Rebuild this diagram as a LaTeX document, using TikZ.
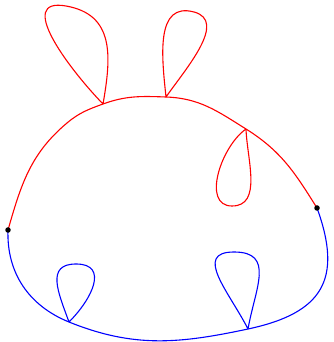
\documentclass[tikz,border=0pt]{standalone}
\usepackage{tikz}
\usetikzlibrary{calc, positioning}

\begin{document}
\begin{tikzpicture}[x=1pt, y=1pt, line width=1.1pt,
    redcurve/.style={red},
    bluecurve/.style={blue},
    dot/.style={circle, fill=black, inner sep=0pt, minimum size=5.5pt}]
    \useasboundingbox (0,0) rectangle (333,342);
    % Các điểm trên đường cong
    \coordinate (L) at (8,112);
    \coordinate (R) at (317,134);
    \coordinate (A) at (103,238);
    \coordinate (B) at (166,245);
    \coordinate (C) at (246,213);
    \coordinate (D) at (69,20);
    \coordinate (E) at (248,13);
    % Đỉnh của các vòng
    \coordinate (A1) at (66,336);
    \coordinate (B1) at (194,330);
    \coordinate (C1) at (232,136);
    \coordinate (D1) at (76,78);
    \coordinate (E1) at (234,90);
    
    % Cung trên (màu đỏ)
    \draw[redcurve] (L) to[out=74, in=220] (67,219) to[out=40, in=200] (A)
        to[out=20, in=178] (B) to[out=-2, in=148] (C)
        to[out=-32, in=122] (R);
    % Các vòng đỏ
    \draw[redcurve] (A) to[out=134, in=170, looseness=1.25] (A1)
        to[out=-10, in=80, looseness=1.2] (A);
    \draw[redcurve] (B) to[out=96, in=165, looseness=1.15] (B1)
        to[out=-15, in=55, looseness=1.0] (B);
    \draw[redcurve] (C) to[out=-145, in=180] (C1)
        to[out=0, in=-88] (C);
    
    % Cung dưới (màu xanh)
    \draw[bluecurve] (L) to[out=-92, in=158] (D) to[out=-22, in=192] (E)
        to[out=12, in=-70, looseness=1.4] (R);
    % Các vòng xanh
    \draw[bluecurve] (D) to[out=110, in=180, looseness=1.35] (D1)
        to[out=0, in=45, looseness=1.45] (D);
    \draw[bluecurve] (E) to[out=117, in=180, looseness=1.35] (E1)
        to[out=0, in=80, looseness=1.35] (E);
    
    % Hai điểm đen
    \node[dot] (dotL) at (L) {};
    \node[dot] (dotR) at (R) {};
\end{tikzpicture}
\end{document}
